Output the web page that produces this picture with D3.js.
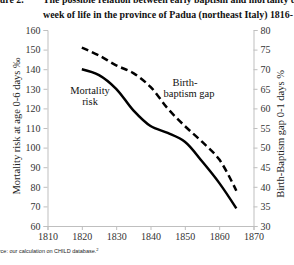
<!DOCTYPE html>
<html><head><meta charset="utf-8">
<script src="https://cdn.jsdelivr.net/npm/d3@7"></script>
<style>body{margin:0;background:#fff}svg{display:block}</style>
</head><body>
<svg id="c" width="294" height="265"></svg>
<script>
const years = [1820,1825,1830,1835,1840,1845,1850,1855,1860,1865];
const mortality = [140,137,130,119,111,107.5,103,93,82,69];
const gap = [75.5,73.5,71,69,65.5,60,55.5,51.5,47,39];
const xTicks = [1810,1820,1830,1840,1850,1860,1870];
const leftTicks = [60,70,80,90,100,110,120,130,140,150,160];
const rightTicks = [30,35,40,45,50,55,60,65,70,75,80];

const svg = d3.select("#c");
const serif = "'Liberation Serif','Times New Roman',serif";
const x = d3.scaleLinear().domain([1810,1870]).range([47.5,253.5]);
const yL = d3.scaleLinear().domain([60,160]).range([226,30]);
const yR = d3.scaleLinear().domain([30,80]).range([226,30]);

// title
svg.append("text").attr("x",-14).attr("y",2.5).attr("font-family",serif).attr("font-weight","bold")
  .attr("font-size",9.9).attr("fill","#111").text("Figure 2.");
svg.append("text").attr("x",43).attr("y",2.5).attr("font-family",serif).attr("font-weight","bold")
  .attr("font-size",9.9).attr("fill","#111").text("The possible relation between early baptism and mortality during the first");
svg.append("text").attr("x",43).attr("y",18).attr("font-family",serif).attr("font-weight","bold")
  .attr("font-size",9.9).attr("fill","#111").text("week of life in the province of Padua (northeast Italy) 1816-");

function styleAxis(g){
  g.selectAll("path,line").attr("stroke","#bfbfbf");
  g.selectAll("text").attr("font-family",serif).attr("font-size",10).attr("fill","#333");
}
svg.append("g").attr("transform","translate(0,226)")
  .call(d3.axisBottom(x).tickValues(xTicks).tickFormat(d3.format("d")).tickSizeOuter(0).tickSize(4).tickPadding(3))
  .call(styleAxis);
svg.append("g").attr("transform","translate(47.5,0)")
  .call(d3.axisLeft(yL).tickValues(leftTicks).tickSizeOuter(0).tickSize(4).tickPadding(3))
  .call(styleAxis);
svg.append("g").attr("transform","translate(253.5,0)")
  .call(d3.axisRight(yR).tickValues(rightTicks).tickSizeOuter(0).tickSize(4).tickPadding(3))
  .call(styleAxis);

const lineM = d3.line().x((d,i)=>x(years[i])).y(d=>yL(d)).curve(d3.curveCatmullRom);
const lineG = d3.line().x((d,i)=>x(years[i])).y(d=>yR(d)).curve(d3.curveCatmullRom);
svg.append("path").datum(gap).attr("d",lineG).attr("fill","none").attr("stroke","#000")
  .attr("stroke-width",2.5).attr("stroke-dasharray","7,4");
svg.append("path").datum(mortality).attr("d",lineM).attr("fill","none").attr("stroke","#000")
  .attr("stroke-width",2.5);

// labels
const lab = (t,xx,yy)=>svg.append("text").attr("x",xx).attr("y",yy).attr("text-anchor","middle")
  .attr("font-family",serif).attr("font-size",10.5).attr("fill","#111").text(t);
lab("Mortality",90,94); lab("risk",90,105);
lab("Birth-",185,86); lab("baptism gap",189,97);

svg.append("text").attr("transform","translate(20,126) rotate(-90)").attr("text-anchor","middle")
  .attr("font-family",serif).attr("font-size",10.5).attr("fill","#222").text("Mortality risk at age 0-6 days ‰");
svg.append("text").attr("transform","translate(284,134) rotate(-90)").attr("text-anchor","middle")
  .attr("font-family",serif).attr("font-size",10.5).attr("fill","#222").text("Birth-Baptism gap 0-1 days %");

const src = svg.append("text").attr("x",-11).attr("y",253).attr("font-family","'Liberation Sans',Arial,sans-serif")
  .attr("font-size",5.5).attr("fill","#222");
src.append("tspan").text("Source: our calculation on CHILD database.");
src.append("tspan").attr("font-size",4).attr("dy",-2).text("2");
</script>
</body></html>
